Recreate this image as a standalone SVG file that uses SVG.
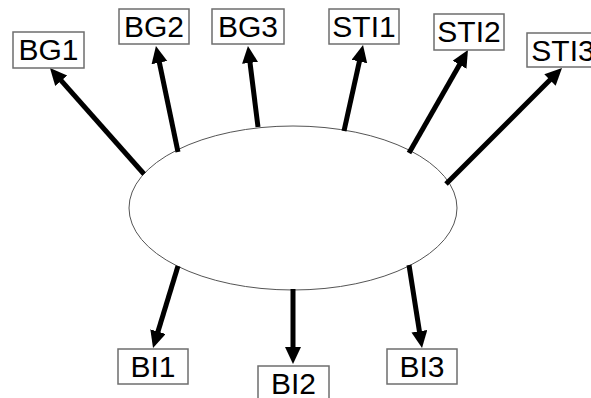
<svg xmlns="http://www.w3.org/2000/svg" width="591" height="398" viewBox="0 0 591 398">
<style>
.box{fill:#fff;stroke:#6e6e6e;stroke-width:1.5}
.lbl{font-family:"Liberation Sans",Arial,sans-serif;font-size:30px;fill:#000;text-anchor:middle}
.conn line{stroke:#000;stroke-width:5;marker-end:url(#ah)}
</style>
<defs>
<marker id="ah" markerUnits="userSpaceOnUse" markerWidth="20" markerHeight="20" refX="2" refY="8" orient="auto">
<path d="M0,0 L17,8 L0,16 z" fill="#000"/>
</marker>
</defs>
<rect width="591" height="398" fill="#fff"/>
<g id="center"><ellipse cx="293" cy="208" rx="164" ry="82" fill="#fff" stroke="#555" stroke-width="1"/></g>
<g class="conn" id="connectors">
<line x1="144" y1="174" x2="59.9" y2="79.2"/>
<line x1="178" y1="152" x2="159" y2="60.7"/>
<line x1="258" y1="127" x2="249.8" y2="60.9"/>
<line x1="344" y1="131" x2="359.8" y2="59.6"/>
<line x1="409" y1="153" x2="460.5" y2="63"/>
<line x1="446" y1="184" x2="551.4" y2="78.6"/>
<line x1="178" y1="266" x2="157.4" y2="333.6"/>
<line x1="293" y1="289" x2="293" y2="349"/>
<line x1="409" y1="265" x2="419.7" y2="333.2"/>
</g>
<g id="BG1"><rect class="box" x="13" y="32" width="71" height="36"/><text class="lbl" x="48.5" y="60">BG1</text></g>
<g id="BG2"><rect class="box" x="119" y="9" width="70" height="35"/><text class="lbl" x="154" y="37">BG2</text></g>
<g id="BG3"><rect class="box" x="212" y="9" width="72" height="35"/><text class="lbl" x="248" y="37">BG3</text></g>
<g id="STI1"><rect class="box" x="329" y="9" width="70" height="35"/><text class="lbl" x="364" y="37">STI1</text></g>
<g id="STI2"><rect class="box" x="434" y="14" width="70" height="36"/><text class="lbl" x="469" y="42">STI2</text></g>
<g id="STI3"><rect class="box" x="527" y="33" width="72" height="34"/><text class="lbl" x="563" y="61">STI3</text></g>
<g id="BI1"><rect class="box" x="118" y="349" width="70" height="35"/><text class="lbl" x="153" y="377">BI1</text></g>
<g id="BI2"><rect class="box" x="258" y="366" width="71" height="36"/><text class="lbl" x="293.5" y="394">BI2</text></g>
<g id="BI3"><rect class="box" x="387" y="349" width="70" height="35"/><text class="lbl" x="422" y="377">BI3</text></g>
</svg>
